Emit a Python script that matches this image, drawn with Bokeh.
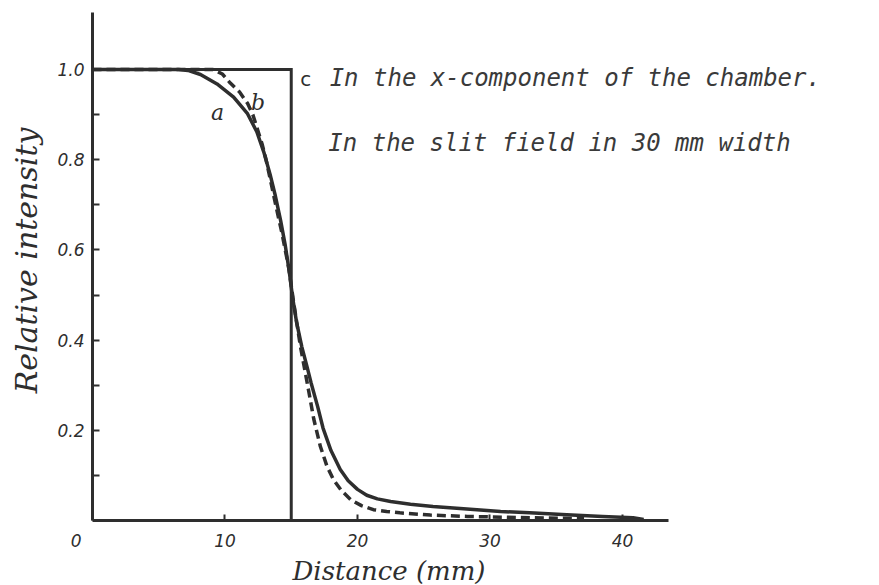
from bokeh.plotting import figure
from bokeh.models import FixedTicker, Range1d, Title
from bokeh.core.properties import value
from bokeh.embed import file_html
from bokeh.resources import INLINE

# Measured profile "a" (solid): distance in mm, relative intensity
dist_a = [0, 6.5, 7.2, 8.15, 9.4, 10.65, 11.7, 12.4, 12.95, 13.4, 13.8,
          14.2, 14.55, 14.85, 15.1, 15.4, 15.8, 16.2, 16.5, 17.0, 17.4, 18.0,
          18.7, 19.3, 20.0, 20.7, 21.5, 22.5, 24.0, 25.7, 28.0, 30.8, 33.0,
          35.8, 38.5, 40.8, 41.6]
int_a = [1.0, 1.0, 0.998, 0.989, 0.968, 0.939, 0.902, 0.862, 0.815, 0.768,
         0.72, 0.665, 0.61, 0.552, 0.495, 0.44, 0.385, 0.34, 0.305, 0.252,
         0.205, 0.155, 0.113, 0.088, 0.069, 0.056, 0.048, 0.042, 0.036,
         0.031, 0.026, 0.02, 0.017, 0.013, 0.009, 0.006, 0.002]

# Measured profile "b" (dashed)
dist_b = [0, 8.0, 9.1, 9.8, 10.4, 11.1, 11.7, 12.1, 12.4, 12.8, 13.1, 13.5,
          13.9, 14.3, 14.8, 15.2, 15.7, 16.3, 16.7, 17.2, 17.7, 18.2, 18.8,
          19.5, 20.3, 21.2, 22.2, 23.2, 25.5, 28.3, 33.3, 37.1]
int_b = [1.0, 1.0, 1.0, 0.99, 0.97, 0.95, 0.925, 0.9, 0.872, 0.835, 0.80,
         0.745, 0.69, 0.637, 0.562, 0.48, 0.385, 0.29, 0.225, 0.164, 0.12,
         0.09, 0.066, 0.046, 0.033, 0.024, 0.02, 0.017, 0.012, 0.009, 0.006,
         0.004]

# Ideal slit edge "c"
dist_c = [0, 15, 15]
int_c = [1.0, 1.0, 0.0]

x_ticks = [0, 10, 20, 30, 40]
# the origin label is nudged left with trailing figure spaces
x_labels = ["0\u2007\u2007\u2007", "10", "20", "30", "40"]
y_ticks = [0.2, 0.4, 0.6, 0.8, 1.0]
y_minor = [0.1, 0.3, 0.5, 0.7, 0.9]
y_labels = ["0.2", "0.4", "0.6", "0.8", "1.0"]

curve_names = ["a", "b", "c"]
note_lines = ["In the x-component of the chamber.",
              "In the slit field in 30 mm width"]

INK = "#2e2e2e"

p = figure(width=879, height=585, output_backend="svg", toolbar_location=None,
           x_range=Range1d(0, 59.4), y_range=Range1d(0, 1.153),
           min_border_left=92, min_border_bottom=64, min_border_top=0,
           min_border_right=0)
p.outline_line_color = None
p.grid.visible = False
p.background_fill_color = "white"
p.border_fill_color = "white"

# x axis
xa = p.xaxis[0]
xa.ticker = FixedTicker(ticks=x_ticks)
xa.major_label_overrides = dict(zip(x_ticks, x_labels))
xa.bounds = (0, 43.5)
xa.axis_line_width = 3
xa.axis_line_color = INK
xa.major_tick_in = 6
xa.major_tick_out = 0
xa.major_tick_line_width = 2
xa.major_tick_line_color = INK
xa.minor_tick_in = 0
xa.minor_tick_out = 0
xa.major_label_standoff = 10
xa.major_label_text_font = "DejaVu Sans"
xa.major_label_text_font_style = "italic"
xa.major_label_text_font_size = "17px"
xa.major_label_text_color = INK

# axis title under the x axis, placed from the frame's left edge
p.add_layout(Title(text="Distance (mm)", align="left", offset=200,
                   standoff=0, text_font="DejaVu Serif",
                   text_font_style="italic", text_font_size="26px",
                   text_color=INK), "below")

# y axis
ya = p.yaxis[0]
ya.ticker = FixedTicker(ticks=y_ticks, minor_ticks=y_minor)
ya.major_label_overrides = dict(zip(y_ticks, y_labels))
ya.bounds = (0, 1.126)
ya.axis_line_width = 3
ya.axis_line_color = INK
ya.major_tick_in = 7
ya.major_tick_out = 0
ya.minor_tick_in = 7
ya.minor_tick_out = 0
ya.major_tick_line_width = 2
ya.minor_tick_line_width = 2
ya.major_tick_line_color = INK
ya.minor_tick_line_color = INK
ya.major_label_standoff = 8
ya.major_label_text_font = "DejaVu Sans"
ya.major_label_text_font_style = "italic"
ya.major_label_text_font_size = "17px"
ya.major_label_text_color = INK
ya.axis_label = "Relative intensity"
ya.axis_label_standoff = 10
ya.axis_label_text_font = "DejaVu Serif"
ya.axis_label_text_font_style = "italic"
ya.axis_label_text_font_size = "30px"
ya.axis_label_text_color = INK

# curves
p.line(dist_c, int_c, line_width=3, line_color=INK, line_join="miter")
p.line(dist_a, int_a, line_width=3.5, line_color=INK, line_join="round")
p.line(dist_b, int_b, line_width=3.5, line_color=INK, line_dash="9 5",
       line_join="round")

# curve letters
p.text(x=[9.43, 12.5], y=[0.905, 0.927], text=curve_names[:2],
       text_font=value("DejaVu Serif"), text_font_style="italic",
       text_font_size="22px", text_color=INK, text_align="center",
       text_baseline="middle")
p.text(x=[16.1], y=[0.978], text=curve_names[2:],
       text_font=value("DejaVu Sans"), text_font_size="20px", text_color=INK,
       text_align="center", text_baseline="middle")

# notes
p.text(x=[17.9, 17.8], y=[0.982, 0.836], text=note_lines,
       text_font=value("DejaVu Sans Mono"), text_font_style="italic",
       text_font_size="24px", text_color="#3a3a3a", text_align="left",
       text_baseline="alphabetic")

open("out.html", "w").write(file_html(p, INLINE))
